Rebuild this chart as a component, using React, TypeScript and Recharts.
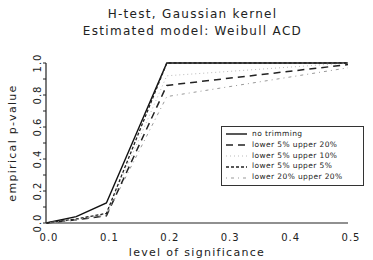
import React from "react";
import { LineChart, Line, XAxis, YAxis } from "recharts";

const levels = [0, 0.05, 0.1, 0.2, 0.5];
const noTrim = [0, 0.04, 0.125, 1.0, 1.0];
const l5u20 = [0, 0.02, 0.045, 0.86, 0.99];
const l5u10 = [0, 0.02, 0.06, 0.92, 1.0];
const l5u5 = [0, 0.025, 0.06, 1.0, 1.0];
const l20u20 = [0, 0.02, 0.05, 0.79, 0.97];

const xTicks = [0, 0.1, 0.2, 0.3, 0.4, 0.5];
const yTicks = [0, 0.1, 0.2, 0.3, 0.4, 0.5, 0.6, 0.7, 0.8, 0.9, 1.0];

const data = levels.map((lv, i) => ({
  level: lv,
  noTrim: noTrim[i],
  l5u20: l5u20[i],
  l5u10: l5u10[i],
  l5u5: l5u5[i],
  l20u20: l20u20[i],
}));

const series = [
  { key: "noTrim", name: "no trimming", stroke: "#111", width: 1.4, dash: undefined },
  { key: "l5u20", name: "lower 5% upper 20%", stroke: "#222", width: 1.5, dash: "7 5" },
  { key: "l5u10", name: "lower 5% upper 10%", stroke: "#bbb", width: 1, dash: "1 3" },
  { key: "l5u5", name: "lower 5% upper 5%", stroke: "#222", width: 1.3, dash: "3 2" },
  { key: "l20u20", name: "lower 20% upper 20%", stroke: "#999", width: 1, dash: "1 4 3 4" },
];

const font = "'DejaVu Sans', sans-serif";

const XTick = ({ x, y, payload }: any) => (
  <text x={x + 3} y={y + 10} textAnchor="middle" fontSize={10} fontFamily={font} fill="#222" letterSpacing={1}>
    {payload.value.toFixed(1)}
  </text>
);

const YTick = ({ y, payload }: any) => {
  const v = payload.value;
  if (Math.round(v * 10) % 2 !== 0) return null;
  return (
    <text
      x={37}
      y={y}
      transform={`rotate(-90, 37, ${y})`}
      textAnchor="middle"
      dominantBaseline="central"
      fontSize={10}
      fontFamily={font}
      fill="#222"
      letterSpacing={1}
    >
      {v.toFixed(1)}
    </text>
  );
};

const LegendBox = () => (
  <div
    style={{
      position: "absolute",
      left: 221,
      top: 126,
      width: 133,
      border: "1px solid #333",
      padding: "2px 4px",
      fontFamily: font,
      fontSize: 7.5,
      color: "#222",
      lineHeight: "10.8px",
      background: "#fff",
      whiteSpace: "nowrap",
    }}
  >
    {series.map((s) => (
      <div key={s.key} style={{ display: "flex", alignItems: "center" }}>
        <svg width={21} height={8} style={{ marginRight: 5, flex: "none" }}>
          <line x1={0} y1={4} x2={21} y2={4} stroke={s.stroke} strokeWidth={s.width} strokeDasharray={s.dash} />
        </svg>
        <span style={{ letterSpacing: 0.4 }}>{s.name}</span>
      </div>
    ))}
  </div>
);

export default function App() {
  return (
    <div style={{ position: "absolute", left: 0, top: 0, width: 373, height: 260, background: "#fff" }}>
      <div
        style={{
          position: "absolute",
          top: 6,
          width: 373,
          textAlign: "center",
          fontFamily: font,
          fontSize: 12,
          letterSpacing: 1.3,
          lineHeight: "17px",
          color: "#222",
          paddingLeft: 6,
        }}
      >
        <div>H-test, Gaussian kernel</div>
        <div>Estimated model: Weibull ACD</div>
      </div>
      <LineChart width={373} height={260} data={data} margin={{ top: 63, right: 25, bottom: 0, left: 0 }}>
        <XAxis
          dataKey="level"
          type="number"
          domain={[0, 0.5]}
          ticks={xTicks}
          interval={0}
          tick={<XTick />}
          tickLine={false}
          axisLine={{ stroke: "#222", strokeWidth: 1.2 }}
          height={37}
          label={{
            value: "level of significance",
            position: "insideBottom",
            offset: 4,
            style: { fontFamily: font, fontSize: 11, letterSpacing: 1.3, fill: "#222" },
          }}
        />
        <YAxis
          type="number"
          domain={[0, 1]}
          ticks={yTicks}
          interval={0}
          tick={<YTick />}
          tickSize={3}
          tickLine={{ stroke: "#222" }}
          axisLine={{ stroke: "#222", strokeWidth: 1.2 }}
          width={46}
          label={{
            value: "empirical p-value",
            angle: -90,
            position: "insideLeft",
            offset: 12,
            style: { textAnchor: "middle", fontFamily: font, fontSize: 11, letterSpacing: 1.3, fill: "#222" },
          }}
        />
        {series.map((s) => (
          <Line
            key={s.key}
            type="linear"
            dataKey={s.key}
            name={s.name}
            stroke={s.stroke}
            strokeWidth={s.width}
            strokeDasharray={s.dash}
            dot={false}
            isAnimationActive={false}
          />
        ))}
      </LineChart>
      <LegendBox />
    </div>
  );
}
